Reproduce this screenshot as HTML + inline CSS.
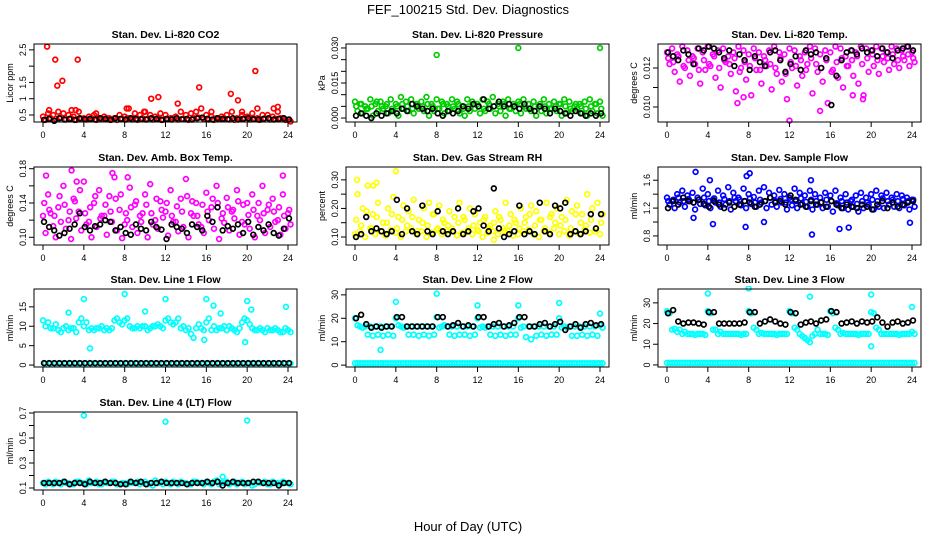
<!DOCTYPE html>
<html><head><meta charset="utf-8"><style>
html,body{margin:0;padding:0;background:#fff;}
svg{display:block;font-family:"Liberation Sans",sans-serif;}
</style></head><body>
<svg id="chart" width="936" height="540" viewBox="0 0 936 540">
<text x="468" y="14" text-anchor="middle" font-size="13">FEF_100215  Std. Dev. Diagnostics</text>
<text x="468" y="531" text-anchor="middle" font-size="13">Hour of Day (UTC)</text>
</svg>
<script>
const hours = [0,0.5,1,1.5,2,2.5,3,3.5,4,4.5,5,5.5,6,6.5,7,7.5,8,8.5,9,9.5,10,10.5,11,11.5,12,12.5,13,13.5,14,14.5,15,15.5,16,16.5,17,17.5,18,18.5,19,19.5,20,20.5,21,21.5,22,22.5,23,23.5,24];
const xTicks = [0,4,8,12,16,20,24];

const co2RedA = [0.45,0.55,0.5,0.6,0.55,0.5,0.45,0.6,0.4,0.45,0.5,0.4,0.45,0.4,0.4,0.5,0.45,0.4,0.55,0.5,0.6,0.5,0.45,0.55,0.5,0.4,0.45,0.6,0.5,0.55,0.6,0.7,0.5,0.45,0.4,0.45,0.5,0.6,0.4,0.5,0.45,0.55,0.4,0.5,0.5,0.45,0.6,0.4,0.35];
const co2RedB = [0.35,0.4,0.38,0.42,0.36,0.4,0.35,0.38,0.36,0.4,0.35,0.37,0.4,0.36,0.35,0.38,0.4,0.36,0.35,0.4,0.38,0.36,0.4,0.35,0.37,0.4,0.36,0.38,0.35,0.4,0.42,0.38,0.36,0.35,0.38,0.4,0.36,0.35,0.38,0.4,0.36,0.38,0.35,0.4,0.36,0.38,0.4,0.35,0.3];
const co2Black = [0.35,0.38,0.32,0.4,0.36,0.38,0.35,0.4,0.37,0.38,0.36,0.4,0.38,0.35,0.4,0.38,0.36,0.4,0.38,0.37,0.36,0.4,0.38,0.35,0.38,0.36,0.4,0.37,0.38,0.36,0.4,0.42,0.38,0.36,0.4,0.38,0.37,0.4,0.36,0.38,0.4,0.37,0.36,0.38,0.4,0.36,0.38,0.4,0.36];
const co2OutHours = [0.4,1.2,1.4,1.9,3.4,20.8,15.3,18.4,10.6,11.3,19.1,13.2,8.2,8.4,21,22.6,23,19.5,0.6,2.8,3.2,9.9,5.2,16.5];
const co2OutVals = [2.6,2.2,1.4,1.55,2.2,1.85,1.35,1.15,1.0,1.05,0.95,0.85,0.7,0.7,0.7,0.7,0.75,0.6,0.65,0.65,0.65,0.6,0.55,0.6];

const presGreenA = [0.007,0.006,0.005,0.008,0.006,0.007,0.005,0.008,0.006,0.009,0.007,0.008,0.006,0.007,0.009,0.006,0.008,0.007,0.006,0.008,0.007,0.005,0.008,0.007,0.006,0.008,0.007,0.009,0.006,0.007,0.008,0.006,0.007,0.008,0.006,0.007,0.005,0.008,0.006,0.007,0.006,0.008,0.007,0.005,0.006,0.007,0.008,0.006,0.007];
const presGreenB = [0.003,0.002,0.004,0.001,0.003,0.004,0.002,0.003,0.001,0.004,0.003,0.002,0.004,0.003,0.001,0.003,0.004,0.002,0.003,0.004,0.002,0.001,0.003,0.004,0.002,0.003,0.004,0.002,0.003,0.001,0.004,0.003,0.002,0.004,0.003,0.001,0.003,0.002,0.004,0.003,0.001,0.002,0.003,0.004,0.002,0.001,0.003,0.002,0.001];
const presGreenC = [0.005,0.006,0.004,0.005,0.007,0.005,0.006,0.004,0.005,0.006,0.005,0.004,0.006,0.005,0.006,0.005,0.004,0.006,0.005,0.005,0.006,0.004,0.005,0.006,0.005,0.004,0.006,0.005,0.005,0.006,0.004,0.005,0.006,0.005,0.004,0.005,0.006,0.005,0.004,0.005,0.006,0.005,0.004,0.006,0.005,0.004,0.005,0.006,0.004];
const presBlack = [0.001,0.002,0.001,0.0,0.002,0.001,0.002,0.003,0.002,0.004,0.003,0.006,0.005,0.004,0.003,0.004,0.002,0.001,0.003,0.002,0.003,0.005,0.004,0.006,0.005,0.008,0.004,0.005,0.007,0.005,0.006,0.005,0.004,0.006,0.004,0.003,0.005,0.004,0.002,0.004,0.003,0.002,0.001,0.003,0.002,0.001,0.002,0.001,0.002];
const presOutHours = [8,16,24];
const presOutVals = [0.027,0.030,0.030];

const tempMagA = [0.0128,0.0130,0.0127,0.0131,0.0129,0.0126,0.0130,0.0128,0.0131,0.0127,0.0129,0.0130,0.0126,0.0128,0.0131,0.0129,0.0127,0.0130,0.0128,0.0126,0.0129,0.0131,0.0128,0.0127,0.0130,0.0129,0.0126,0.0128,0.0131,0.0130,0.0127,0.0129,0.0128,0.0131,0.0130,0.0126,0.0129,0.0128,0.0131,0.0130,0.0129,0.0131,0.0130,0.0128,0.0131,0.0130,0.0129,0.0131,0.0128];
const tempMagB = [0.0122,0.0118,0.0113,0.0120,0.0116,0.0122,0.0112,0.0119,0.0121,0.0115,0.0110,0.0123,0.0117,0.0108,0.0120,0.0114,0.0106,0.0119,0.0112,0.0121,0.0109,0.0117,0.0113,0.0104,0.0120,0.0111,0.0116,0.0122,0.0107,0.0118,0.0113,0.0102,0.0119,0.0115,0.0110,0.0121,0.0116,0.0112,0.0106,0.0118,0.0121,0.0117,0.0123,0.0119,0.0122,0.0120,0.0124,0.0121,0.0123];
const tempMagC = [0.0125,0.0123,0.0126,0.0121,0.0124,0.0125,0.0119,0.0124,0.0122,0.0126,0.0120,0.0124,0.0122,0.0125,0.0118,0.0123,0.0121,0.0125,0.0119,0.0124,0.0122,0.0120,0.0125,0.0117,0.0123,0.0121,0.0124,0.0119,0.0125,0.0122,0.0120,0.0124,0.0118,0.0123,0.0125,0.0121,0.0124,0.0126,0.0122,0.0125,0.0127,0.0124,0.0126,0.0125,0.0127,0.0124,0.0126,0.0127,0.0125];
const tempBlack = [0.0128,0.0126,0.0124,0.0129,0.0127,0.0122,0.0130,0.0129,0.0131,0.0130,0.0128,0.0125,0.0129,0.0121,0.0127,0.0124,0.0119,0.0126,0.0123,0.0121,0.0128,0.0129,0.0124,0.0118,0.0122,0.0126,0.0119,0.0129,0.0127,0.0128,0.0120,0.0125,0.0101,0.0116,0.0124,0.0128,0.0129,0.0127,0.0130,0.0128,0.0129,0.0126,0.0130,0.0128,0.0125,0.0129,0.0130,0.0131,0.0129];
const tempOutHours = [12,15,6.9,7.5,19.2,18.2];
const tempOutVals = [0.0093,0.0098,0.0102,0.0105,0.0104,0.0106];

const boxMagA = [0.125,0.150,0.113,0.135,0.160,0.120,0.145,0.130,0.165,0.118,0.140,0.155,0.125,0.148,0.170,0.132,0.115,0.158,0.138,0.125,0.150,0.162,0.120,0.142,0.130,0.155,0.118,0.145,0.168,0.128,0.140,0.112,0.152,0.135,0.160,0.122,0.146,0.130,0.155,0.118,0.140,0.150,0.125,0.160,0.132,0.145,0.120,0.150,0.128];
const boxMagB = [0.105,0.128,0.100,0.118,0.110,0.098,0.122,0.108,0.115,0.100,0.112,0.125,0.103,0.118,0.108,0.099,0.120,0.112,0.105,0.128,0.100,0.115,0.110,0.123,0.102,0.118,0.107,0.112,0.100,0.125,0.115,0.105,0.120,0.110,0.098,0.117,0.108,0.122,0.103,0.115,0.110,0.100,0.120,0.105,0.112,0.118,0.103,0.110,0.115];
const boxMagC = [0.140,0.132,0.125,0.148,0.138,0.130,0.142,0.155,0.128,0.135,0.148,0.122,0.138,0.130,0.145,0.150,0.128,0.135,0.142,0.118,0.138,0.128,0.145,0.132,0.140,0.125,0.136,0.130,0.148,0.142,0.125,0.138,0.130,0.145,0.140,0.128,0.135,0.132,0.142,0.138,0.126,0.132,0.140,0.128,0.138,0.130,0.135,0.125,0.132];
const boxBlack = [0.118,0.112,0.108,0.102,0.105,0.110,0.115,0.128,0.112,0.108,0.113,0.115,0.120,0.118,0.108,0.112,0.105,0.103,0.115,0.110,0.108,0.118,0.112,0.109,0.098,0.115,0.112,0.110,0.105,0.115,0.112,0.108,0.125,0.118,0.135,0.108,0.113,0.110,0.115,0.105,0.118,0.103,0.112,0.108,0.115,0.105,0.102,0.110,0.122];
const boxOutHours = [0.3,2.8,6.8,3.3,8.3,23.5];
const boxOutVals = [0.172,0.178,0.175,0.165,0.17,0.172];

const rhYelA = [0.11,0.12,0.10,0.13,0.11,0.12,0.105,0.125,0.115,0.10,0.12,0.13,0.11,0.12,0.10,0.115,0.125,0.11,0.12,0.13,0.105,0.115,0.12,0.11,0.125,0.10,0.115,0.12,0.11,0.13,0.12,0.105,0.11,0.12,0.125,0.11,0.10,0.12,0.115,0.13,0.11,0.12,0.105,0.12,0.11,0.125,0.115,0.12,0.11];
const rhYelB = [0.25,0.20,0.28,0.18,0.22,0.15,0.20,0.24,0.17,0.21,0.19,0.23,0.16,0.20,0.22,0.18,0.21,0.15,0.19,0.17,0.22,0.16,0.20,0.18,0.15,0.17,0.14,0.19,0.16,0.22,0.18,0.15,0.20,0.17,0.21,0.19,0.16,0.22,0.18,0.20,0.17,0.23,0.19,0.21,0.18,0.25,0.20,0.22,0.18];
const rhYelC = [0.16,0.14,0.19,0.13,0.17,0.12,0.15,0.18,0.13,0.16,0.14,0.17,0.12,0.15,0.14,0.18,0.13,0.16,0.14,0.12,0.15,0.17,0.13,0.14,0.12,0.16,0.13,0.15,0.17,0.12,0.14,0.16,0.13,0.15,0.18,0.14,0.16,0.13,0.17,0.15,0.14,0.16,0.13,0.18,0.15,0.14,0.16,0.13,0.15];
const rhBlack = [0.10,0.11,0.17,0.12,0.13,0.12,0.11,0.12,0.23,0.11,0.20,0.12,0.11,0.21,0.12,0.11,0.19,0.12,0.11,0.12,0.20,0.11,0.12,0.19,0.20,0.14,0.12,0.27,0.13,0.10,0.11,0.12,0.21,0.11,0.12,0.11,0.22,0.12,0.11,0.21,0.20,0.22,0.11,0.12,0.11,0.12,0.18,0.13,0.18];
const rhOutHours = [4,0.2,1.8,2.1,13.6];
const rhOutVals = [0.33,0.30,0.28,0.29,0.09];

const sfBlueA = [1.35,1.30,1.40,1.45,1.38,1.42,1.35,1.48,1.40,1.32,1.45,1.38,1.50,1.42,1.35,1.48,1.40,1.36,1.45,1.50,1.42,1.38,1.46,1.40,1.35,1.48,1.42,1.38,1.45,1.40,1.35,1.42,1.38,1.45,1.35,1.40,1.30,1.38,1.42,1.35,1.40,1.45,1.38,1.42,1.35,1.40,1.38,1.35,1.32];
const sfBlueB = [1.25,1.20,1.28,1.22,1.30,1.18,1.26,1.24,1.20,1.28,1.22,1.25,1.18,1.30,1.24,1.20,1.26,1.22,1.28,1.20,1.25,1.22,1.28,1.18,1.24,1.20,1.26,1.22,1.18,1.25,1.20,1.22,1.15,1.24,1.20,1.18,1.22,1.15,1.20,1.25,1.18,1.22,1.20,1.25,1.22,1.20,1.24,1.18,1.22];
const sfBlueC = [1.30,1.32,1.35,1.30,1.33,1.28,1.32,1.35,1.30,1.34,1.28,1.33,1.30,1.35,1.32,1.30,1.34,1.28,1.32,1.30,1.35,1.30,1.33,1.28,1.32,1.30,1.34,1.29,1.32,1.30,1.28,1.32,1.30,1.27,1.30,1.28,1.32,1.26,1.30,1.28,1.32,1.30,1.34,1.30,1.32,1.30,1.33,1.30,1.32];
const sfBlack = [1.2,1.3,1.25,1.35,1.3,1.28,1.32,1.26,1.22,1.3,1.25,1.2,1.28,1.22,1.25,1.3,1.28,1.22,1.25,1.3,1.35,1.28,1.3,1.25,1.38,1.32,1.25,1.22,1.3,1.25,1.28,1.22,1.3,1.25,1.2,1.25,1.22,1.2,1.25,1.22,1.18,1.25,1.3,1.2,1.28,1.22,1.25,1.28,1.3];
const sfOutHours = [2.8,7.8,8.1,14.2,4.2,14.1,16.9,17.8,7.7,2.6,4.5,23.8,9.5];
const sfOutVals = [1.72,1.66,1.7,0.82,1.6,1.6,0.9,0.92,0.93,1.06,0.97,0.99,1.0];

const l1CyanA = [11.5,11,9.5,9,9.5,9,9.5,11,10,9,9,9.5,9,9,11.5,11,11.5,10,9.5,9.5,10,9.5,10,10,11.5,11,11,9.5,9,8,9.5,9.5,11,9,9,9.5,9,9.5,8.5,11,11.5,9.5,9,9,9.5,9,9,8.5,9];
const l1CyanB = [10,9.5,10.5,8.5,10,9.5,8.5,12,11,9.5,9.5,10,9.5,9.5,12,10.5,12,9.5,10,10,9,10,10.5,9.5,12,10.5,12,10,9.5,7,10.5,9,12,10,9.5,10,10,9,9.5,12,10.5,9,9.5,8.5,9,9.5,8.5,9.5,8.5];
const l1CyanLow = [0.4,0.4,0.4,0.4,0.4,0.4,0.4,0.4,0.4,0.4,0.4,0.4,0.4,0.4,0.4,0.4,0.4,0.4,0.4,0.4,0.4,0.4,0.4,0.4,0.4,0.4,0.4,0.4,0.4,0.4,0.4,0.4,0.4,0.4,0.4,0.4,0.4,0.4,0.4,0.4,0.4,0.4,0.4,0.4,0.4,0.4,0.4,0.4,0.4];
const l1Black = [0.5,0.5,0.5,0.5,0.5,0.5,0.5,0.5,0.5,0.5,0.5,0.5,0.5,0.5,0.5,0.5,0.5,0.5,0.5,0.5,0.5,0.5,0.5,0.5,0.5,0.5,0.5,0.5,0.5,0.5,0.5,0.5,0.5,0.5,0.5,0.5,0.5,0.5,0.5,0.5,0.5,0.5,0.5,0.5,0.5,0.5,0.5,0.5,0.5];
const l1OutHours = [4,8,10,12,16,16.7,17.4,20,20.4,23.8,2.5,4.6,18,19.8,15.8];
const l1OutVals = [17,18.3,13.8,17,17,15.3,13.3,16.5,14.3,15,13.5,4.3,9,5.9,6.5];

const l2CyanA = [20,16.5,16.5,16.5,16.5,16.5,16.5,16.5,20,16.5,16.5,16.5,16.5,16.5,16.5,16.5,20.5,16.5,16.5,16.5,16.5,16.5,16.5,16.5,20,16.5,16.5,16.5,16.5,16.5,16.5,16.5,20,16.5,16.5,16.5,16.5,16.5,16.5,16.5,20,16.5,16.5,16.5,16.5,16.5,16.5,16.5,17];
const l2CyanB = [17,16,13,12.5,13,12.5,13,12.5,17,16,13,13,12.5,13,12.5,13,16,17,13,12.5,13,13,12.5,13,16,16,13,12.5,13,12.5,13,13,16,12,11,12.5,13,12.5,13,13,16,16,12.5,12.5,13,12.5,13,12.5,16];
const l2CyanLow = [0.8,0.8,0.8,0.8,0.8,0.8,0.8,0.8,0.8,0.8,0.8,0.8,0.8,0.8,0.8,0.8,0.8,0.8,0.8,0.8,0.8,0.8,0.8,0.8,0.8,0.8,0.8,0.8,0.8,0.8,0.8,0.8,0.8,0.8,0.8,0.8,0.8,0.8,0.8,0.8,0.8,0.8,0.8,0.8,0.8,0.8,0.8,0.8,0.8];
const l2Black = [20,21.5,17.5,16,16.5,16,16.5,16.5,20.5,20.5,16.5,16.5,16.5,16.5,16.5,16.5,20.5,20.5,16.5,17,18,16.5,17,16.5,20.5,20.5,16.5,17.5,18,16.5,17,18,20.5,20.5,16.5,16.5,17.5,18,16.5,17.5,18.5,15,16.5,17.5,16,17.5,18,17,17.5];
const l2OutHours = [4,8,12,16,20,24,2.5];
const l2OutVals = [27,30.5,25.5,25.5,26.5,22,6.5];

const l3CyanA = [26,17,16,15,15,15,15,15,26,17,15,15,15,15,15,15,26,18,15,15,15,15,15,15,26,18,15,13,11,15,15,15,26,18,15,15,15,15,15,15,25.5,18,15,15,15,15,15,15,16];
const l3CyanB = [25,17.5,17,16,15,14.5,15,14.5,25,17,16,15,15,15,14.5,15,25,17,15.5,15,15,14.5,15,15,25,17,14,12,14,17,15,14.5,25,17,15.5,15,15,14.5,15,15,25,17,15,15,15,14.5,15,15,15];
const l3CyanLow = [1,1,1,1,1,1,1,1,1,1,1,1,1,1,1,1,1,1,1,1,1,1,1,1,1,1,1,1,1,1,1,1,1,1,1,1,1,1,1,1,1,1,1,1,1,1,1,1,1];
const l3Black = [25,26.5,21,20,20.5,20.5,20,19.5,25.5,25.5,20,20,20,20,20,20.5,25.5,25.5,20,21,22,21,20,19.5,25.5,25,19.5,20.5,21,20,21.5,22,26,25.5,20,20.5,21,20,21,20.5,21,23,20.5,18.5,20.5,21,20,20.5,21.5];
const l3OutHours = [4,8,14,20,24,20];
const l3OutVals = [34.5,37,33,34,28,9];

const l4CyanA = [0.14,0.15,0.13,0.14,0.15,0.14,0.13,0.15,0.14,0.16,0.14,0.13,0.15,0.14,0.15,0.13,0.14,0.15,0.14,0.13,0.15,0.14,0.16,0.14,0.15,0.13,0.14,0.15,0.14,0.13,0.15,0.14,0.15,0.13,0.16,0.14,0.15,0.14,0.13,0.15,0.14,0.12,0.15,0.14,0.13,0.15,0.14,0.15,0.14];
const l4CyanB = [0.13,0.14,0.15,0.13,0.14,0.13,0.15,0.14,0.13,0.14,0.15,0.13,0.14,0.15,0.13,0.14,0.13,0.14,0.15,0.14,0.13,0.12,0.14,0.13,0.14,0.15,0.13,0.14,0.13,0.15,0.14,0.13,0.14,0.15,0.13,0.14,0.13,0.15,0.14,0.13,0.14,0.13,0.14,0.15,0.13,0.14,0.13,0.14,0.13];
const l4Black = [0.14,0.14,0.14,0.14,0.15,0.13,0.14,0.14,0.13,0.15,0.14,0.14,0.15,0.14,0.14,0.13,0.13,0.15,0.14,0.15,0.13,0.14,0.14,0.15,0.14,0.14,0.14,0.14,0.13,0.14,0.14,0.14,0.15,0.14,0.15,0.12,0.14,0.15,0.14,0.14,0.14,0.15,0.15,0.14,0.14,0.14,0.12,0.14,0.14];
const l4OutHours = [4,12,20,17.6];
const l4OutVals = [0.68,0.63,0.64,0.19];

const NS = "http://www.w3.org/2000/svg";
const svg = document.getElementById("chart");
const W = 263, H = 78;
function mk(tag, attrs, parent) {
  const e = document.createElementNS(NS, tag);
  for (const k in attrs) e.setAttribute(k, attrs[k]);
  parent.appendChild(e);
  return e;
}
function drawPanel(p) {
  const g = mk("g", {}, svg);
  
  
  const L = p.left, T = p.top;
  const xs = h => L + 9 + (h / 24) * (W - 18);
  const ys = v => T + H - (v - p.ymin) / (p.ymax - p.ymin) * H;
  const t = mk("text", {x: L + W / 2, y: T - 6, "text-anchor": "middle", "font-size": 10.5, "font-weight": "bold"}, g);
  t.textContent = p.title;
  
  
  const clip = mk("clipPath", {id: "c" + p.name}, g);
  mk("rect", {x: L, y: T - 3, width: W, height: H + 6}, clip);
  const marks = mk("g", {"clip-path": "url(#c" + p.name + ")"}, g);
  p.series.forEach(s => {
    const hh = s.hours || hours;
    s.vals.forEach((v, i) => {
      const h = hh[i] + (s.off || 0);
      if (h > 24.3) return;
      const c = mk("circle", {cx: xs(h), cy: ys(v), r: 2.4, fill: "none", stroke: s.color, "stroke-width": 1.7}, marks);
      
      
    });
  });
  const box = mk("rect", {x: L, y: T, width: W, height: H, fill: "none", stroke: "#000", "stroke-width": 1}, g);
  
  
  xTicks.forEach(h => {
    mk("line", {x1: xs(h), x2: xs(h), y1: T + H, y2: T + H + 5, stroke: "#000"}, g);
    const lt = mk("text", {x: xs(h), y: T + H + 16, "text-anchor": "middle", "font-size": 9}, g);
    lt.textContent = h;
    
    
  });
  p.yTicks.forEach((v, i) => {
    const y = ys(v);
    mk("line", {x1: L - 5, x2: L, y1: y, y2: y, stroke: "#000"}, g);
    const lab = p.yLabels[i];
    if (lab) {
      const lt = mk("text", {x: L - 8, y: y, "text-anchor": "middle", "font-size": 9, transform: "rotate(-90 " + (L - 8) + " " + y + ")"}, g);
      lt.textContent = lab;
      
      
    }
  });
  const yl = mk("text", {x: L - 21, y: T + H / 2, "text-anchor": "middle", "font-size": 9, transform: "rotate(-90 " + (L - 21) + " " + (T + H / 2) + ")"}, g);
  yl.textContent = p.ylab;
  
  
}
const cols = [34, 346, 658], rows = [44, 167, 289, 412];
const RED = "#ff0000", GRN = "#00cc00", MAG = "#ff00ff", YEL = "#ffff00", BLU = "#0000ff", CYN = "#00ffff", BLK = "#000000";
drawPanel({name: "panel-co2", left: cols[0], top: rows[0], title: "Stan. Dev. Li-820 CO2", ylab: "Licor ppm", ymin: 0.285, ymax: 2.68,
  yTicks: [0.5,1,1.5,2,2.5], yLabels: ["0.5","1","1.5","","2.5"],
  series: [{vals: co2RedA, color: RED, label: "co2-point"}, {vals: co2RedB, color: RED, off: 0.25, label: "co2-point"},
    {vals: co2OutVals, hours: co2OutHours, color: RED, label: "co2-outlier"}, {vals: co2Black, color: BLK, off: 0.1, label: "co2-black-point"}]});
drawPanel({name: "panel-pressure", left: cols[1], top: rows[0], title: "Stan. Dev. Li-820 Pressure", ylab: "kPa", ymin: -0.0017, ymax: 0.0317,
  yTicks: [0,0.005,0.01,0.015,0.02,0.025,0.03], yLabels: ["0.000","","","0.015","","","0.030"],
  series: [{vals: presGreenA, color: GRN, label: "pressure-point"}, {vals: presGreenB, color: GRN, off: 0.25, label: "pressure-point"},
    {vals: presGreenC, color: GRN, off: 0.12, label: "pressure-point"},
    {vals: presOutVals, hours: presOutHours, color: GRN, label: "pressure-outlier"}, {vals: presBlack, color: BLK, off: 0.1, label: "pressure-black-point"}]});
drawPanel({name: "panel-temp", left: cols[2], top: rows[0], title: "Stan. Dev. Li-820 Temp.", ylab: "degrees C", ymin: 0.00923, ymax: 0.01323,
  yTicks: [0.010,0.011,0.012], yLabels: ["0.010","","0.012"],
  series: [{vals: tempMagA, color: MAG, label: "temp-point"}, {vals: tempMagB, color: MAG, off: 0.25, label: "temp-point"},
    {vals: tempMagC, color: MAG, off: 0.12, label: "temp-point"},
    {vals: tempOutVals, hours: tempOutHours, color: MAG, label: "temp-outlier"}, {vals: tempBlack, color: BLK, off: 0.1, label: "temp-black-point"}]});
drawPanel({name: "panel-box-temp", left: cols[0], top: rows[1], title: "Stan. Dev. Amb. Box Temp.", ylab: "degrees C", ymin: 0.091, ymax: 0.182,
  yTicks: [0.10,0.12,0.14,0.16,0.18], yLabels: ["0.10","","0.14","","0.18"],
  series: [{vals: boxMagA, color: MAG, label: "box-temp-point"}, {vals: boxMagB, color: MAG, off: 0.25, label: "box-temp-point"},
    {vals: boxMagC, color: MAG, off: 0.12, label: "box-temp-point"},
    {vals: boxOutVals, hours: boxOutHours, color: MAG, label: "box-temp-outlier"}, {vals: boxBlack, color: BLK, off: 0.1, label: "box-temp-black-point"}]});
drawPanel({name: "panel-rh", left: cols[1], top: rows[1], title: "Stan. Dev. Gas Stream RH", ylab: "percent", ymin: 0.072, ymax: 0.345,
  yTicks: [0.10,0.15,0.20,0.25,0.30], yLabels: ["0.10","","0.20","","0.30"],
  series: [{vals: rhYelA, color: YEL, label: "rh-point"}, {vals: rhYelB, color: YEL, off: 0.25, label: "rh-point"},
    {vals: rhYelC, color: YEL, off: 0.12, label: "rh-point"},
    {vals: rhOutVals, hours: rhOutHours, color: YEL, label: "rh-outlier"}, {vals: rhBlack, color: BLK, off: 0.1, label: "rh-black-point"}]});
drawPanel({name: "panel-sample-flow", left: cols[2], top: rows[1], title: "Stan. Dev. Sample Flow", ylab: "ml/min", ymin: 0.67, ymax: 1.79,
  yTicks: [0.8,1.0,1.2,1.4,1.6], yLabels: ["0.8","","1.2","","1.6"],
  series: [{vals: sfBlueA, color: BLU, label: "sample-flow-point"}, {vals: sfBlueB, color: BLU, off: 0.25, label: "sample-flow-point"},
    {vals: sfBlueC, color: BLU, off: 0.12, label: "sample-flow-point"},
    {vals: sfOutVals, hours: sfOutHours, color: BLU, label: "sample-flow-outlier"}, {vals: sfBlack, color: BLK, off: 0.1, label: "sample-flow-black-point"}]});
drawPanel({name: "panel-line1", left: cols[0], top: rows[2], title: "Stan. Dev. Line 1 Flow", ylab: "ml/min", ymin: -0.5, ymax: 19.6,
  yTicks: [0,5,10,15], yLabels: ["0","5","10","15"],
  series: [{vals: l1CyanA, color: CYN, label: "line1-point"}, {vals: l1CyanB, color: CYN, off: 0.25, label: "line1-point"},
    {vals: l1CyanLow, color: CYN, off: 0.25, label: "line1-point"},
    {vals: l1OutVals, hours: l1OutHours, color: CYN, label: "line1-outlier"}, {vals: l1Black, color: BLK, off: 0.1, label: "line1-black-point"}]});
drawPanel({name: "panel-line2", left: cols[1], top: rows[2], title: "Stan. Dev. Line 2 Flow", ylab: "ml/min", ymin: -0.8, ymax: 32.5,
  yTicks: [0,10,20,30], yLabels: ["0","10","20","30"],
  series: [{vals: l2CyanA, color: CYN, label: "line2-point"}, {vals: l2CyanB, color: CYN, off: 0.25, label: "line2-point"},
    {vals: l2CyanLow, color: CYN, label: "line2-point"}, {vals: l2CyanLow, color: CYN, off: 0.25, label: "line2-point"},
    {vals: l2OutVals, hours: l2OutHours, color: CYN, label: "line2-outlier"}, {vals: l2Black, color: BLK, off: 0.1, label: "line2-black-point"}]});
drawPanel({name: "panel-line3", left: cols[2], top: rows[2], title: "Stan. Dev. Line 3 Flow", ylab: "ml/min", ymin: -1, ymax: 36.7,
  yTicks: [0,10,20,30], yLabels: ["0","10","20","30"],
  series: [{vals: l3CyanA, color: CYN, label: "line3-point"}, {vals: l3CyanB, color: CYN, off: 0.25, label: "line3-point"},
    {vals: l3CyanLow, color: CYN, label: "line3-point"}, {vals: l3CyanLow, color: CYN, off: 0.25, label: "line3-point"},
    {vals: l3OutVals, hours: l3OutHours, color: CYN, label: "line3-outlier"}, {vals: l3Black, color: BLK, off: 0.1, label: "line3-black-point"}]});
drawPanel({name: "panel-line4", left: cols[0], top: rows[3], title: "Stan. Dev. Line 4 (LT) Flow", ylab: "ml/min", ymin: 0.084, ymax: 0.708,
  yTicks: [0.1,0.2,0.3,0.4,0.5,0.6,0.7], yLabels: ["0.1","","0.3","","0.5","","0.7"],
  series: [{vals: l4CyanA, color: CYN, label: "line4-point"}, {vals: l4CyanB, color: CYN, off: 0.25, label: "line4-point"},
    {vals: l4OutVals, hours: l4OutHours, color: CYN, label: "line4-outlier"}, {vals: l4Black, color: BLK, off: 0.1, label: "line4-black-point"}]});
</script>
</body></html>
